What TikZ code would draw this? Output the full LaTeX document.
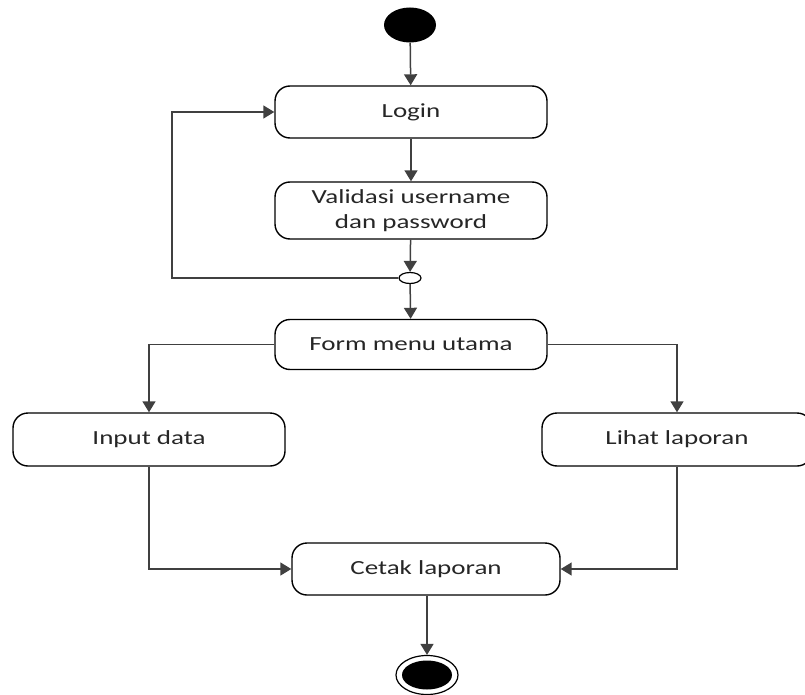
\documentclass[tikz,border=0pt]{standalone}
\usepackage{fontspec}
\setmainfont{Carlito}
\newfontfamily\labelfont[FakeStretch=1.35]{Carlito}
\usetikzlibrary{arrows.meta,shapes.geometric}

\tikzset{
  action/.style={draw=black, line width=1.4pt, rounded corners=15pt, fill=white,
    minimum width=272pt, minimum height=52pt, align=center, inner sep=0pt,
    font=\labelfont\fontsize{20}{24.5}\selectfont, text=black!85},
  flow/.style={draw=black!75, line width=1.5pt,
    -{Triangle[width=13pt,length=11pt]}},
}

\begin{document}
\begin{tikzpicture}[x=1pt, y=-1pt]
  \useasboundingbox (0,0) rectangle (805,695);
  \clip (0,0) rectangle (805,695);

  % initial and final states
  \node[ellipse, fill=black, minimum width=52pt, minimum height=35pt, inner sep=0pt] (start) at (410,25) {};
  \node[ellipse, draw=black, line width=1.2pt, minimum width=62pt, minimum height=39pt, inner sep=0pt] (stop) at (427,675) {};
  \node[ellipse, fill=black, minimum width=50pt, minimum height=29pt, inner sep=0pt] (stopcore) at (427,675) {};

  % activities
  \node[action] (login) at (411,112) {Login};
  \node[action, minimum height=57pt] (valid) at (411,210.5) {Validasi username\\dan password};
  \node[ellipse, draw=black, line width=1.2pt, fill=white, minimum width=22pt, minimum height=11pt, inner sep=0pt] (dec) at (410,278) {};
  \node[action, minimum height=50pt] (form) at (411,344.5) {Form menu utama};
  \node[action, minimum height=53pt] (input) at (149,439.5) {Input data};
  \node[action, minimum width=270pt, minimum height=53pt] (lihat) at (677,439.5) {Lihat laporan};
  \node[action, minimum width=268pt] (cetak) at (426,569) {Cetak laporan};

  \coordinate (loopcorner) at (172,278);
  \coordinate (inturn) at (149,569);
  \coordinate (lihturn) at (677,569);

  % connectors
  \draw[flow] (start) -- (login);
  \draw[flow] (login) -- (valid);
  \draw[flow] (valid) -- (dec);
  \draw[flow] (dec.west) -- (loopcorner) |- (login.west);
  \draw[flow] (dec) -- (form);
  \draw[flow] (form.west) -| (input.north);
  \draw[flow] (form.east) -| (lihat.north);
  \draw[flow] (input.south) -- (inturn) -- (cetak.west);
  \draw[flow] (lihat.south) -- (lihturn) -- (cetak.east);
  \draw[flow] (cetak.south -| stop.north) -- (stop.north);
\end{tikzpicture}
\end{document}
